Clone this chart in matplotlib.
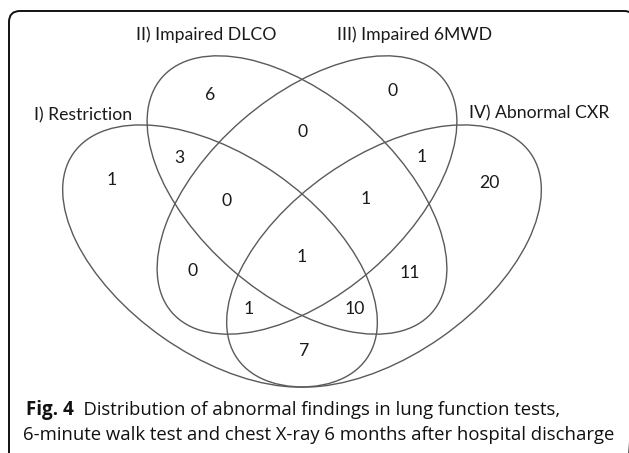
import matplotlib.pyplot as plt
from matplotlib.patches import Ellipse, FancyBboxPatch

# set names and counts per region (key = membership in I, II, III, IV)
set_names = ["I) Restriction", "II) Impaired DLCO", "III) Impaired 6MWD", "IV) Abnormal CXR"]
region_keys = ["1000", "0100", "0010", "0001",
               "1100", "0110", "0011",
               "1110", "0111", "1111",
               "1010", "0101", "1011", "1101", "1001"]
region_counts = [1, 6, 0, 20, 3, 0, 1, 0, 1, 1, 0, 11, 1, 10, 7]
caption_bold = "Fig. 4"
caption_text = ["Distribution of abnormal findings in lung function tests,",
                "6-minute walk test and chest X-ray 6 months after hospital discharge"]

# layout in pixel coordinates (y down)
ellipses = [  # cx, cy, width, height, angle
    (220, 256, 358, 199, 35),
    (297, 195, 358, 198, 41),
    (307, 195, 358, 198, -41),
    (384, 256, 358, 199, -35),
]
name_pos = [(83, 115), (206, 35), (415, 35), (539, 113)]
count_pos = {
    "1000": (112, 180), "0100": (210, 95), "0010": (393, 91), "0001": (489, 183),
    "1100": (179, 158), "0110": (303, 132), "0011": (422, 157),
    "1110": (227, 201), "0111": (366, 199), "1111": (302, 257),
    "1010": (193, 271), "0101": (410, 273), "1011": (249, 309),
    "1101": (355, 309), "1001": (304, 351),
}

fig = plt.figure(figsize=(6.29, 4.53), dpi=100)
ax = fig.add_axes([0, 0, 1, 1])
ax.set_xlim(0, 629)
ax.set_ylim(453, 0)
ax.axis("off")

# frame runs off the right and bottom edges
frame = FancyBboxPatch((9, 11), 626, 480, boxstyle="round,pad=0,rounding_size=11",
                       fill=False, edgecolor="#111111", lw=1.4)
ax.add_patch(frame)

for cx, cy, w, h, ang in ellipses:
    ax.add_patch(Ellipse((cx, cy), w, h, angle=ang, fill=False,
                         edgecolor="#5a5a5a", lw=1.0))

lab_font = "Lato"
for name, (x, y) in zip(set_names, name_pos):
    ax.text(x, y, name, ha="center", va="center", fontsize=12.7, family=lab_font, color="#1a1a1a")

for key, n in zip(region_keys, region_counts):
    x, y = count_pos[key]
    ax.text(x, y, str(n), ha="center", va="center", fontsize=12.7, family=lab_font, color="#1a1a1a")

cap_font = "Open Sans"
t = ax.text(26, 410, caption_bold, ha="left", va="center", fontsize=13.5,
            family=cap_font, fontweight="bold", color="#111111")
ax.annotate("  " + caption_text[0], xycoords=t, xy=(1, 0.5), va="center",
            fontsize=13.3, family=cap_font, color="#111111")
ax.text(23, 435, caption_text[1], ha="left", va="center", fontsize=13.3,
        family=cap_font, color="#111111")

fig.savefig("out.png", dpi=100)
